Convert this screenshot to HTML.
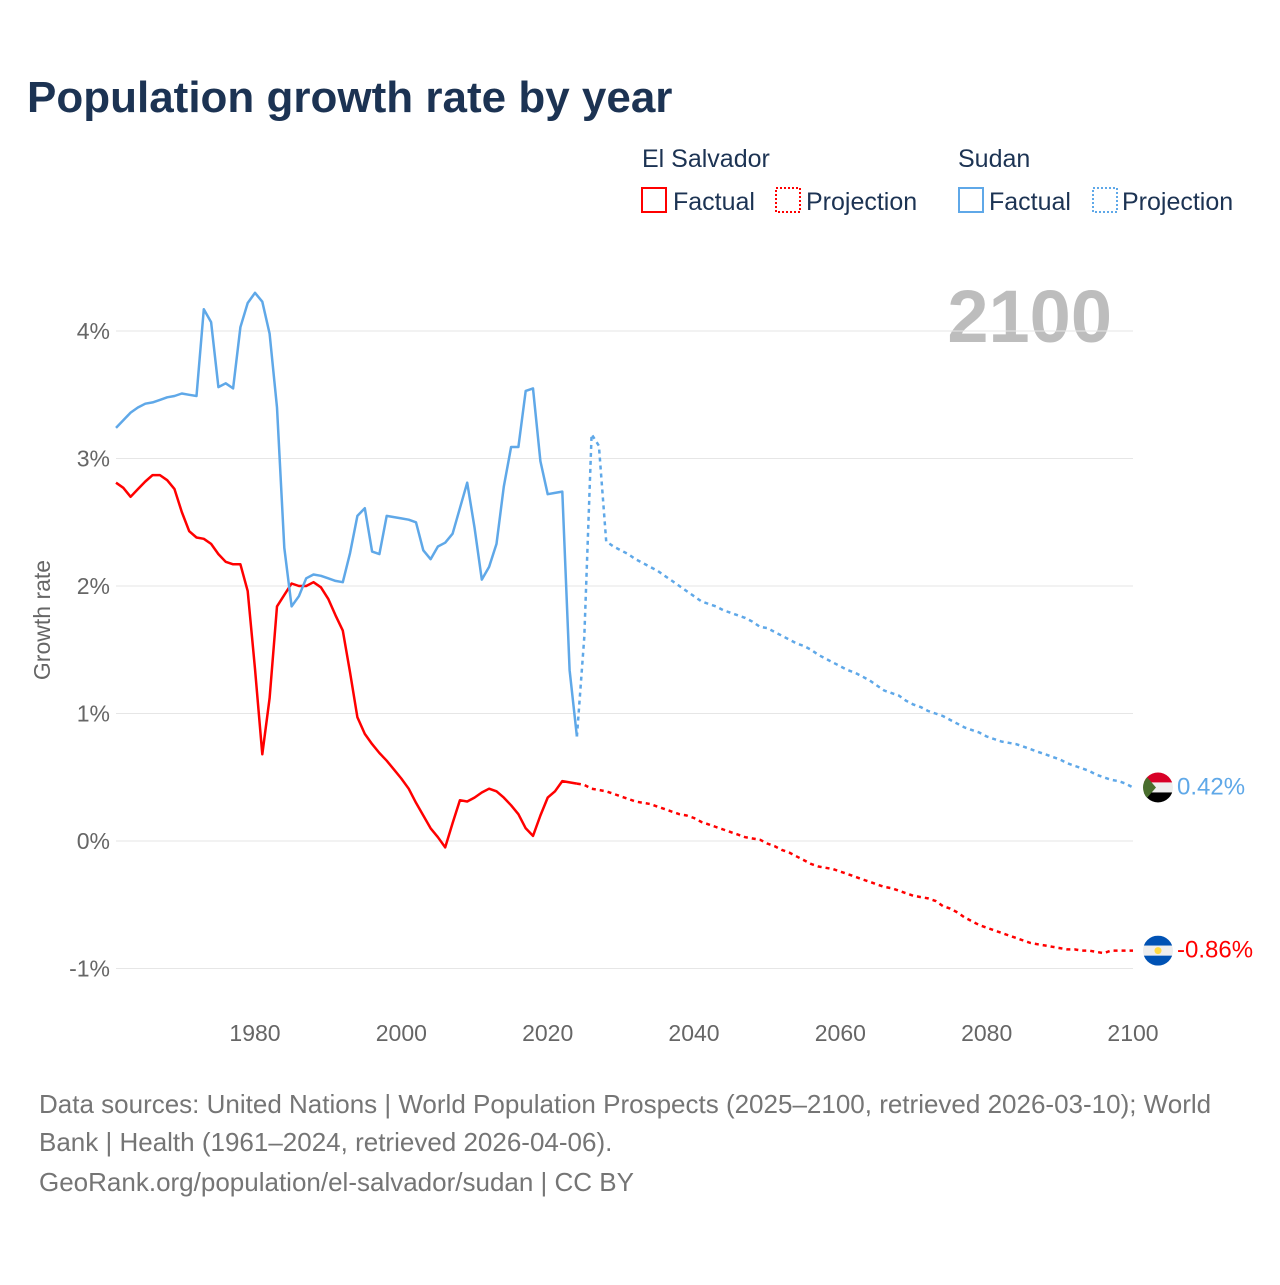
<!DOCTYPE html>
<html><head><meta charset="utf-8"><style>
body{margin:0;background:#fff;width:1280px;height:1280px;overflow:hidden;font-family:"Liberation Sans",sans-serif}
svg text{font-family:"Liberation Sans",sans-serif}
</style></head><body>
<svg id="chart" width="1280" height="1280" viewBox="0 0 1280 1280" xmlns="http://www.w3.org/2000/svg">
<text x="27" y="112" font-size="44" font-weight="bold" fill="#1c3353">Population growth rate by year</text>
<g font-size="25" fill="#1c3353">
<text x="642" y="167">El Salvador</text>
<text x="958" y="167">Sudan</text>
<g><rect x="642" y="188" width="24" height="24" fill="none" stroke="#ff0000" stroke-width="2"/><text x="673" y="210">Factual</text></g>
<g><rect x="776" y="188" width="24" height="24" fill="none" stroke="#ff0000" stroke-width="2" stroke-dasharray="2,2"/><text x="806" y="210">Projection</text></g>
<g><rect x="959" y="188" width="24" height="24" fill="none" stroke="#5fa8e8" stroke-width="2"/><text x="989" y="210">Factual</text></g>
<g><rect x="1093" y="188" width="24" height="24" fill="none" stroke="#5fa8e8" stroke-width="2" stroke-dasharray="2,2"/><text x="1122" y="210">Projection</text></g>
</g>
<text x="1112" y="342" text-anchor="end" font-size="74" font-weight="bold" fill="#bdbdbd">2100</text>
<text transform="translate(50,620) rotate(-90)" text-anchor="middle" font-size="23" fill="#666">Growth rate</text>
<g id="grid"></g><g id="lines"></g><g id="ends"></g>
<g font-size="26" fill="#757575">
<text x="39" y="1113">Data sources: United Nations | World Population Prospects (2025–2100, retrieved 2026-03-10); World</text>
<text x="39" y="1151">Bank | Health (1961–2024, retrieved 2026-04-06).</text>
<text x="39" y="1191">GeoRank.org/population/el-salvador/sudan | CC BY</text>
</g>
</svg>
<script>
const yTicks=[-1,0,1,2,3,4];
const yTickLabels=["-1%","0%","1%","2%","3%","4%"];
const xTicks=[1980,2000,2020,2040,2060,2080,2100];
const factualStart=1961;
const projStart=2024;
const sudanFactual=[3.24,3.30,3.36,3.40,3.43,3.44,3.46,3.48,3.49,3.51,3.50,3.49,4.17,4.07,3.56,3.59,3.55,4.03,4.22,4.30,4.23,3.98,3.40,2.30,1.84,1.92,2.06,2.09,2.08,2.06,2.04,2.03,2.26,2.55,2.61,2.27,2.25,2.55,2.54,2.53,2.52,2.50,2.28,2.21,2.31,2.34,2.41,2.61,2.81,2.46,2.05,2.15,2.33,2.78,3.09,3.09,3.53,3.55,2.98,2.72,2.73,2.74,1.34,0.82];
const sudanProj=[0.82,1.6,3.19,3.10,2.35,2.31,2.28,2.25,2.21,2.18,2.15,2.12,2.08,2.04,2.00,1.96,1.92,1.88,1.86,1.84,1.81,1.79,1.77,1.75,1.72,1.68,1.67,1.64,1.61,1.58,1.55,1.53,1.50,1.46,1.43,1.40,1.37,1.34,1.32,1.29,1.26,1.22,1.18,1.16,1.14,1.10,1.07,1.05,1.02,1.00,0.98,0.95,0.92,0.89,0.87,0.85,0.82,0.80,0.78,0.77,0.76,0.74,0.72,0.70,0.68,0.66,0.64,0.61,0.59,0.57,0.55,0.52,0.50,0.48,0.47,0.45,0.42];
const salvFactual=[2.81,2.77,2.70,2.76,2.82,2.87,2.87,2.83,2.76,2.58,2.43,2.38,2.37,2.33,2.25,2.19,2.17,2.17,1.96,1.35,0.68,1.12,1.84,1.93,2.02,2.00,2.00,2.03,1.99,1.90,1.77,1.65,1.32,0.97,0.84,0.76,0.69,0.63,0.56,0.49,0.41,0.30,0.20,0.10,0.03,-0.05,0.14,0.32,0.31,0.34,0.38,0.41,0.39,0.34,0.28,0.21,0.10,0.04,0.20,0.34,0.39,0.47,0.46,0.45];
const salvProj=[0.45,0.44,0.41,0.40,0.39,0.37,0.35,0.33,0.31,0.30,0.29,0.27,0.25,0.23,0.21,0.20,0.18,0.15,0.13,0.11,0.09,0.07,0.05,0.03,0.02,0.01,-0.02,-0.04,-0.07,-0.09,-0.12,-0.15,-0.18,-0.20,-0.21,-0.22,-0.24,-0.26,-0.28,-0.30,-0.32,-0.34,-0.36,-0.37,-0.39,-0.41,-0.43,-0.44,-0.45,-0.47,-0.51,-0.53,-0.56,-0.60,-0.63,-0.66,-0.68,-0.70,-0.72,-0.74,-0.76,-0.78,-0.80,-0.81,-0.82,-0.83,-0.84,-0.85,-0.85,-0.86,-0.86,-0.87,-0.88,-0.86,-0.86,-0.86,-0.86];

const NS="http://www.w3.org/2000/svg";
const X0=116,X1=1133,Y0=1961,Y1=2100;
const xs=y=>X0+(y-Y0)*(X1-X0)/(Y1-Y0);
const ys=v=>841-v*127.5;
function mk(tag,attrs,parent){const e=document.createElementNS(NS,tag);for(const k in attrs)e.setAttribute(k,attrs[k]);parent.appendChild(e);return e;}
const grid=document.getElementById('grid');
yTicks.forEach((t,i)=>{
  const l=mk('line',{x1:X0,x2:X1,y1:ys(t),y2:ys(t),stroke:'#e6e6e6','stroke-width':1},grid);
  
  
  const tx=mk('text',{x:110,y:ys(t)+8,'text-anchor':'end','font-size':23,fill:'#666'},grid);
  tx.textContent=yTickLabels[i];
  
  
});
xTicks.forEach(t=>{
  const tx=mk('text',{x:xs(t),y:1041,'text-anchor':'middle','font-size':23,fill:'#666'},grid);
  tx.textContent=t;
  
  
});
const lines=document.getElementById('lines');
function series(arr,start,color,dash,name){
  const d=arr.map((v,i)=>(i?'L':'M')+xs(start+i).toFixed(1)+','+ys(v).toFixed(1)).join('');
  const p=mk('path',{d:d,fill:'none',stroke:color,'stroke-width':2.5,'stroke-linejoin':'round'},lines);
  if(dash)p.setAttribute('stroke-dasharray','4,4');
  
  
}
series(salvFactual,factualStart,'#ff0000',false,'el-salvador-factual-line');
series(salvProj,projStart,'#ff0000',true,'el-salvador-projection-line');
series(sudanFactual,factualStart,'#5fa8e8',false,'sudan-factual-line');
series(sudanProj,projStart,'#5fa8e8',true,'sudan-projection-line');
const ends=document.getElementById('ends');
function flag(v,type,color,label,name){
  const cy=ys(v),cx=1158;
  const g=mk('g',{},ends);
  
  
  const cp=mk('clipPath',{id:'c'+type},g);mk('circle',{cx:cx,cy:cy,r:15},cp);
  const f=mk('g',{'clip-path':'url(#c'+type+')'},g);
  if(type==='sd'){
    mk('rect',{x:cx-15,y:cy-15,width:30,height:10,fill:'#d80027'},f);
    mk('rect',{x:cx-15,y:cy-5,width:30,height:10,fill:'#eee'},f);
    mk('rect',{x:cx-15,y:cy+5,width:30,height:10,fill:'#000'},f);
    mk('polygon',{points:`${cx-15},${cy-15} ${cx-2},${cy} ${cx-15},${cy+15}`,fill:'#496e2d'},f);
  }else{
    mk('rect',{x:cx-15,y:cy-15,width:30,height:10,fill:'#0052b4'},f);
    mk('rect',{x:cx-15,y:cy-5,width:30,height:10,fill:'#eee'},f);
    mk('rect',{x:cx-15,y:cy+5,width:30,height:10,fill:'#0052b4'},f);
    mk('circle',{cx:cx,cy:cy,r:3.5,fill:'#ffda44'},f);
  }
  const t=mk('text',{x:1177,y:cy+7,'font-size':24,fill:color},ends);
  t.textContent=label;
  
  
}
flag(sudanProj[sudanProj.length-1],'sd','#5fa8e8',sudanProj[sudanProj.length-1].toFixed(2)+'%','sudan');
flag(salvProj[salvProj.length-1],'sv','#ff0000',salvProj[salvProj.length-1].toFixed(2)+'%','el-salvador');
</script>
</body></html>
